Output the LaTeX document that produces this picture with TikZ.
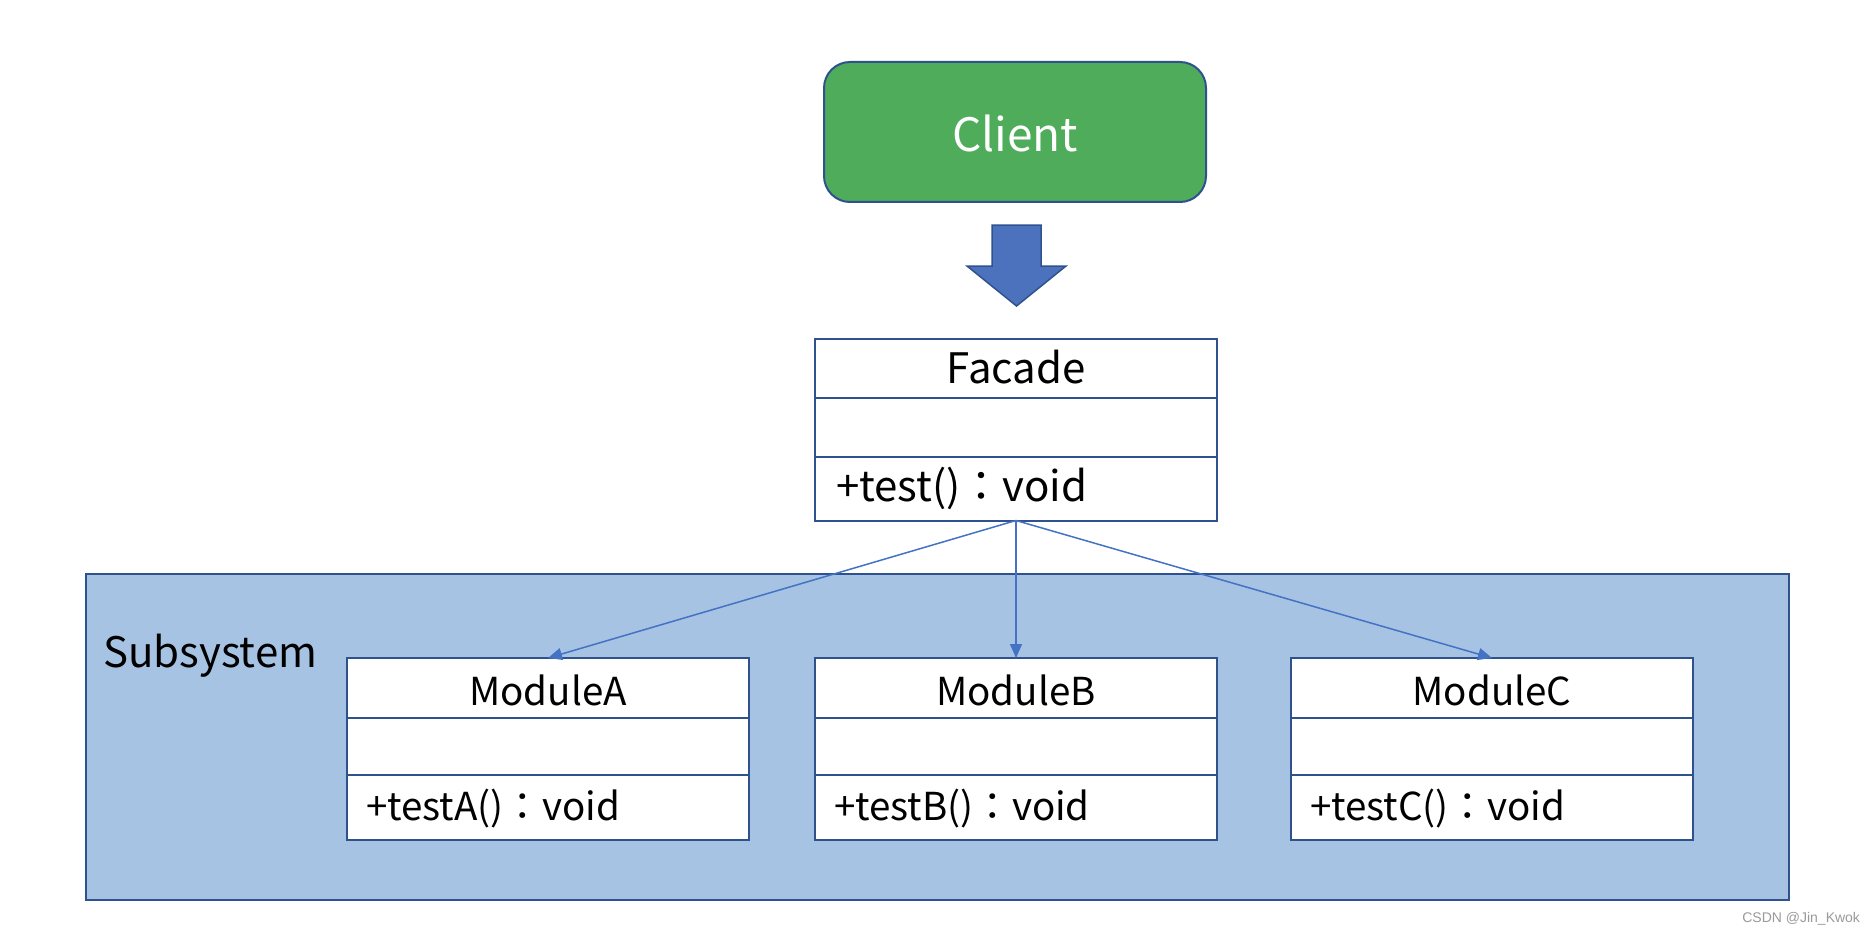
\documentclass[tikz,border=0pt]{standalone}
\usepackage{fontspec}
\setmainfont{Noto Sans CJK SC}
\newfontfamily\tcfont{Noto Sans CJK TC}
\newfontfamily\wmfont{Liberation Sans}
\usetikzlibrary{arrows.meta}
\definecolor{dkblue}{HTML}{2F528F}
\definecolor{midblue}{HTML}{4472C4}
\definecolor{arrfill}{HTML}{4C72BE}
\definecolor{cgreen}{HTML}{4EAC5B}
\definecolor{subfill}{HTML}{A6C3E3}
\definecolor{wmgray}{HTML}{9A9A9A}
\newcommand\fwcolon{{\tcfont ：}}
\begin{document}
\begin{tikzpicture}[x=1pt,y=-1pt,
  every node/.style={inner sep=0pt, outer sep=0pt},
  bigtxt/.style={font=\fontsize{42}{50}\selectfont},
  modtxt/.style={font=\fontsize{38.5}{46}\selectfont},
  umlbox/.style={draw=dkblue, fill=white, line width=2pt, rectangle, minimum width=402pt, minimum height=182pt},
  divider/.style={draw=dkblue, line width=2pt},
  conn/.style={draw=midblue, line width=1.5pt, -{Triangle[length=14pt,width=12pt]}}
]
\useasboundingbox (0,0) rectangle (1876,936);
\fill[white] (0,0) rectangle (1876,936);

% Subsystem container
\node[draw=dkblue, fill=subfill, line width=2pt, rectangle, minimum width=1703pt, minimum height=326pt] (sub) at (937.5,737) {};
\node[anchor=base west, font=\fontsize{42}{50}\selectfont] (sublabel) at (103,667) {Subsystem};

% Client
\node[draw=dkblue, fill=cgreen, rounded corners=26pt, line width=2pt, rectangle, minimum width=382pt, minimum height=140pt] (client) at (1015,132) {};
\node[anchor=base, text=white, font=\fontsize{46}{54}\selectfont] (clientlabel) at (1015,152) {Client};

% Block arrow
\draw[dkblue, fill=arrfill, line width=1.5pt, line join=miter] (992,225) -- (1041,225) -- (1041,266) -- (1066,266) -- (1016.5,306) -- (967,266) -- (992,266) -- cycle;

% Facade
\node[umlbox] (facade) at (1016,429.5) {};
\draw[divider] (815,398) -- (1217,398);
\draw[divider] (815,457) -- (1217,457);
\node[bigtxt, anchor=base] (facadename) at (1016,383) {Facade};
\node[bigtxt, anchor=base west] (facadeop) at (836,501) {+test()\fwcolon void};

% Modules
\node[umlbox] (modA) at (548,749) {};
\draw[divider] (347,718) -- (749,718);
\draw[divider] (347,775) -- (749,775);
\node[modtxt, anchor=base] (modAname) at (548,705) {ModuleA};
\node[modtxt, anchor=base west] (modAop) at (366,820) {+testA()\fwcolon void};

\node[umlbox] (modB) at (1016,749) {};
\draw[divider] (815,718) -- (1217,718);
\draw[divider] (815,775) -- (1217,775);
\node[modtxt, anchor=base] (modBname) at (1016,705) {ModuleB};
\node[modtxt, anchor=base west] (modBop) at (834,820) {+testB()\fwcolon void};

\node[umlbox] (modC) at (1492,749) {};
\draw[divider] (1291,718) -- (1693,718);
\draw[divider] (1291,775) -- (1693,775);
\node[modtxt, anchor=base] (modCname) at (1492,705) {ModuleC};
\node[modtxt, anchor=base west] (modCop) at (1310,820) {+testC()\fwcolon void};

% Connectors
\draw[conn] (facade.south) -- (modA.north);
\draw[conn] (facade.south) -- (modB.north);
\draw[conn] (facade.south) -- (modC.north);

% Watermark
\node[anchor=east, text=wmgray, font=\wmfont\fontsize{14}{16}\selectfont] (wm) at (1860,919) {CSDN @Jin\_Kwok};
\end{tikzpicture}
\end{document}
